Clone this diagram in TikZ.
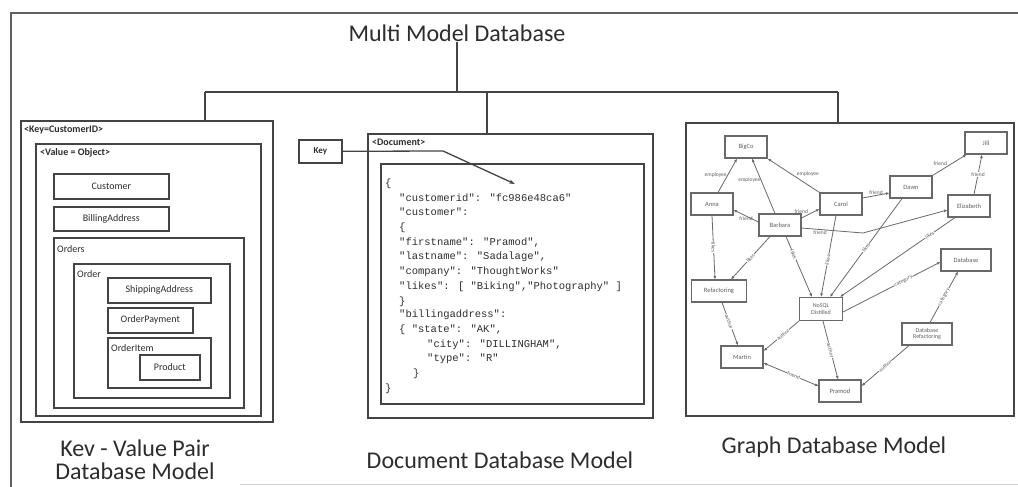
\documentclass[tikz,border=0pt]{standalone}
\usepackage{fontspec}
\setmainfont{Carlito}
\newfontfamily\jsonfont{Liberation Mono}
\usetikzlibrary{arrows.meta}
\definecolor{ln}{RGB}{68,68,68}
\definecolor{txt}{RGB}{45,45,45}
\definecolor{gl}{RGB}{105,105,105}
\definecolor{gt}{RGB}{95,95,95}
\begin{document}
\begin{tikzpicture}[x=1pt,y=-1pt,
  conn/.style={draw=ln, line width=1.5pt},
  box/.style={draw=ln, line width=1.6pt, rectangle, inner sep=0pt, anchor=north west,
     font=\fontsize{10}{11}\selectfont, text=txt},
  tag/.style={anchor=west, inner sep=0pt, font=\bfseries\fontsize{10}{11}\selectfont, text=txt},
  lbl/.style={anchor=west, inner sep=0pt, font=\fontsize{10}{11}\selectfont, text=txt},
  json/.style={anchor=base west, inner sep=0pt, font=\jsonfont\fontsize{10.5}{12}\selectfont, text=txt},
  gnode/.style={draw=gl, line width=1.1pt, rectangle, inner sep=0pt, minimum width=42pt,
     minimum height=22pt, font=\fontsize{6.5}{7}\selectfont, text=gt, align=center},
  gedge/.style={draw=gl, line width=0.8pt, -{Latex[length=3.5pt,width=3pt]}},
  elab/.style={font=\fontsize{5.5}{6}\selectfont, text=gt, inner sep=0.4pt},
  onl/.style={elab, fill=white, sloped},
  capt/.style={font=\fontsize{24}{23}\selectfont, text=txt, align=center, inner sep=0pt}]
\useasboundingbox (0,0) rectangle (1018,487);
\fill[white] (0,0) rectangle (1018,487);
% outer frame
\draw[draw=ln!85, line width=1.3pt] (11,487) -- (11,13) -- (1018,13);
\draw[draw=gray!35, line width=0.8pt] (240,484) -- (1018,484);

% title and tree
\node[capt] (title) at (457,33) {Multi Model Database};
\coordinate (hub) at (457,92);
\coordinate (bL) at (205,92);
\coordinate (bM) at (487,92);
\coordinate (bR) at (838,92);

% ---------- key value ----------
\node[box, minimum width=252, minimum height=301] (kv) at (20,120) {};
\node[tag] (kvtag) at (24,130) {<Key=CustomerID>};
\node[box, minimum width=225, minimum height=272] (val) at (35,143) {};
\node[tag] (valtag) at (40,153) {<Value = Object>};
\node[box, minimum width=115, minimum height=25] (cust) at (53,173) {Customer};
\node[box, minimum width=115, minimum height=24] (bill) at (53,206) {BillingAddress};
\node[box, minimum width=190, minimum height=170] (orders) at (53,237) {};
\node[lbl] (orderslbl) at (57,249) {Orders};
\node[box, minimum width=156, minimum height=134] (order) at (73,263) {};
\node[lbl] (orderlbl) at (77,274) {Order};
\node[box, minimum width=103, minimum height=25] (ship) at (107,277) {ShippingAddress};
\node[box, minimum width=85, minimum height=25] (pay) at (107,307) {OrderPayment};
\node[box, minimum width=103, minimum height=50] (item) at (107,337) {};
\node[lbl] (itemlbl) at (111,348) {OrderItem};
\node[box, minimum width=60, minimum height=25] (prod) at (139,354) {Product};

% ---------- document ----------
\node[box, minimum width=285, minimum height=284] (doc) at (367,133) {};
\node[tag] (doctag) at (372,142) {<Document>};
\node[box, minimum width=263, minimum height=240] (jbox) at (380,163) {};
\node[box, minimum width=43, minimum height=23, font=\bfseries\fontsize{9}{10}\selectfont] (key) at (298,139) {Key};
\node[json] (j1) at (385,186) {\{};
\node[json] (j2) at (399,201) {"customerid": "fc986e48ca6"};
\node[json] (j3) at (399,215) {"customer":};
\node[json] (j4) at (399,230) {\{};
\node[json] (j5) at (399,245) {"firstname": "Pramod",};
\node[json] (j6) at (399,259) {"lastname": "Sadalage",};
\node[json] (j7) at (399,274) {"company": "ThoughtWorks"};
\node[json] (j8) at (399,289) {"likes": [ "Biking","Photography" ]};
\node[json] (j9) at (399,304) {\}};
\node[json] (j10) at (399,317) {"billingaddress":};
\node[json] (j11) at (399,332) {\{ "state": "AK",};
\node[json] (j12) at (427,347) {"city": "DILLINGHAM",};
\node[json] (j13) at (427,361) {"type": "R"};
\node[json] (j14) at (413,376) {\}};
\node[json] (j15) at (385,391) {\}};
\coordinate (kb) at (443,151);
\coordinate (ktgt) at (515,184);

% ---------- graph ----------
\node[box, minimum width=328, minimum height=293] (graph) at (685,122) {};
\node[gnode] (bigco) at (746,147) {BigCo};
\node[gnode] (anna) at (712,204) {Anna};
\node[gnode] (barbara) at (780,225) {Barbara};
\node[gnode] (carol) at (841,204) {Carol};
\node[gnode] (dawn) at (911,187) {Dawn};
\node[gnode] (jill) at (986,143) {Jill};
\node[gnode] (eliz) at (969,206) {Elizabeth};
\node[gnode, minimum width=50] (database) at (966,260) {Database};
\node[gnode, minimum width=55] (refac) at (719,291) {Refactoring};
\node[gnode, minimum width=43, minimum height=23, font=\fontsize{6}{6.5}\selectfont] (nosql) at (821,309) {NoSQL\\Distilled};
\node[gnode] (martin) at (742,357) {Martin};
\node[gnode] (pramod) at (840,391) {Pramod};
\node[gnode, minimum width=50, font=\fontsize{6}{6.5}\selectfont] (dbref) at (927,334) {Database\\Refactoring};
\coordinate (bz) at (863,233);

% tree connectors
\draw[conn] (title.south) -- (hub);
\draw[conn] (bL) -- (bR);
\draw[conn] (bL) -- (bL |- kv.north);
\draw[conn] (bM) -- (bM |- doc.north);
\draw[conn] (bR) -- (bR |- graph.north);

% key arrow
\draw[draw=ln, line width=1.3pt, -{Stealth[length=6pt,width=4pt]}] (key.east) -- (kb) -- (ktgt);

% graph edges
\draw[gedge] ([xshift=6pt]anna.north) -- node[elab, left] {employee} ([xshift=-9pt]bigco.south);
\draw[gedge] ([xshift=-5pt]barbara.north) -- node[elab, pos=0.6, left] {employee} ([xshift=6pt]bigco.south);
\draw[gedge] (carol.north west) -- node[elab, pos=0.45, above right] {employee} (bigco.south east);
\draw[gedge] ([yshift=3pt]barbara.west) -- node[elab, below] {friend} ([yshift=-6pt]anna.east);
\draw[gedge] ([yshift=7pt]barbara.east) -- node[elab, pos=0.4, above left] {friend} ([yshift=-5pt]carol.west);
\draw[gedge] ([yshift=-3pt]barbara.east) -- node[elab, pos=0.3, below] {friend} (bz) -- ([yshift=-4pt]eliz.west);
\draw[gedge] ([yshift=6pt]carol.east) -- node[elab, above] {friend} ([yshift=-6pt]dawn.west);
\draw[gedge] (dawn.north east) -- node[elab, pos=0.45, above left] {friend} ([xshift=2pt]jill.south west);
\draw[gedge] ([xshift=5pt]eliz.north) -- node[elab, fill=white] {friend} ([xshift=-4pt]jill.south);
\draw[gedge] (anna.south) -- node[onl] {likes} ([xshift=-4pt]refac.north);
\draw[gedge] ([xshift=-10pt]barbara.south) -- node[onl] {likes} ([xshift=12pt]refac.north);
\draw[gedge] ([xshift=6pt]barbara.south) -- node[onl, pos=0.3] {likes} ([xshift=-9pt]nosql.north);
\draw[gedge] ([xshift=-5pt]carol.south) -- node[onl, pos=0.55] {likes} (nosql.north);
\draw[gedge] ([xshift=-9pt]dawn.south) -- node[onl, pos=0.5] {likes} ([xshift=9pt]nosql.north);
\draw[gedge] ([xshift=-14pt]eliz.south) -- node[onl, pos=0.22] {likes} ([xshift=-3pt]nosql.north east);
\draw[gedge] ([yshift=-3pt]nosql.east) -- node[onl, pos=0.62] {category} ([yshift=-2pt]database.west);
\draw[gedge] ([xshift=3pt]dbref.north) -- node[onl, pos=0.5] {category} ([xshift=-8pt]database.south);
\draw[gedge] ([xshift=3pt]refac.south) -- node[onl, pos=0.45] {author} ([xshift=-4pt]martin.north);
\draw[gedge] (nosql.south west) -- node[onl, pos=0.45] {author} ([yshift=6pt]martin.east);
\draw[gedge] ([xshift=2pt]nosql.south) -- node[onl] {author} ([xshift=-2pt]pramod.north);
\draw[gedge, {Latex[length=3.5pt,width=3pt]}-{Latex[length=3.5pt,width=3pt]}] ([yshift=-6pt]martin.east) -- node[onl, pos=0.55] {friend} ([yshift=5pt]pramod.west);
\draw[gedge] ([xshift=-18pt]dbref.south) -- node[onl] {author} ([yshift=5pt]pramod.east);

% captions
\node[capt] (kvcap) at (135,460) {Kev - Value Pair\\Database Model};
\node[capt] (doccap) at (500,460) {Document Database Model};
\node[capt] (gcap) at (834,447) {Graph Database Model};
\end{tikzpicture}
\end{document}
